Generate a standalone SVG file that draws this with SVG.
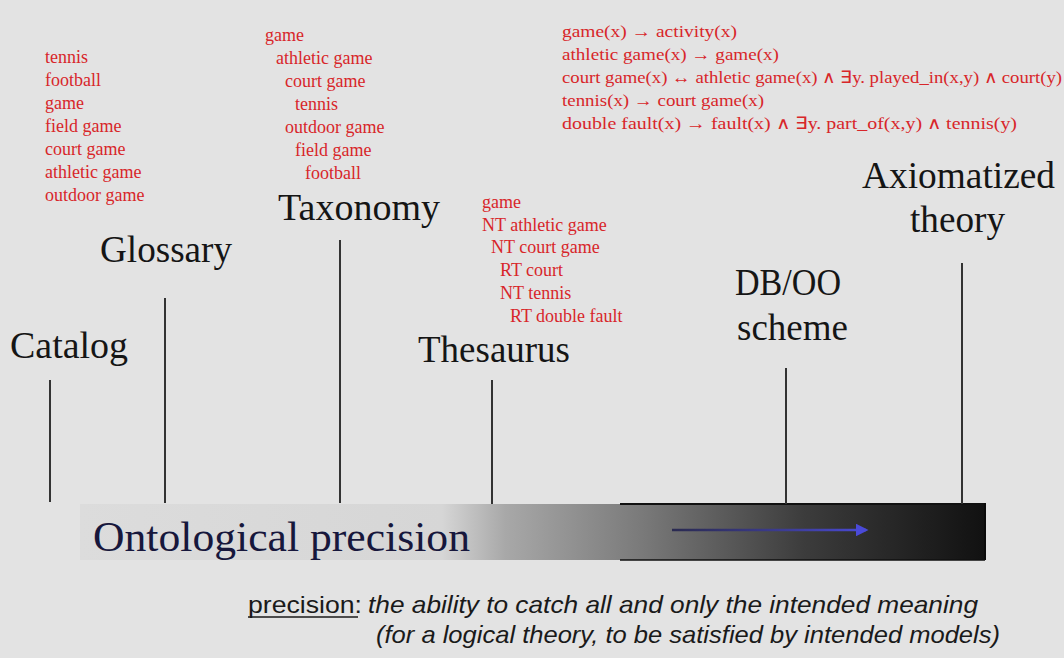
<svg xmlns="http://www.w3.org/2000/svg" width="1064" height="658" viewBox="0 0 1064 658">
  <style>
    .title { font-family: "Liberation Serif", "Times New Roman", serif; font-size: 37px; fill: #151515; }
    .term { font-family: "Liberation Serif", "Times New Roman", serif; font-size: 18px; fill: #d8262a; }
    .axiom { font-family: "Liberation Serif", "Times New Roman", serif; font-size: 17px; fill: #d8262a; }
    .stem { stroke: #333; stroke-width: 2; fill: none; }
    .note { font-family: "Liberation Sans", Arial, sans-serif; font-size: 24px; fill: #1a1a1a; }
  </style>
  <defs>
    <linearGradient id="precisionFill" x1="0" y1="0" x2="1" y2="0">
      <stop offset="0" stop-color="#dcdcdc"/>
      <stop offset="0.40" stop-color="#d6d6d6"/>
      <stop offset="0.47" stop-color="#a8a8a8"/>
      <stop offset="0.62" stop-color="#7a7a7a"/>
      <stop offset="0.80" stop-color="#3c3c3c"/>
      <stop offset="1" stop-color="#111"/>
    </linearGradient>
    <linearGradient id="arrowStroke" x1="672" y1="0" x2="870" y2="0" gradientUnits="userSpaceOnUse">
      <stop offset="0" stop-color="#2a2a50"/>
      <stop offset="0.5" stop-color="#3a3a8a"/>
      <stop offset="1" stop-color="#4a4ad8"/>
    </linearGradient>
    <marker id="blueHead" viewBox="0 0 10 10" refX="8" refY="5" markerWidth="5" markerHeight="5" orient="auto">
      <path d="M0,0 L10,5 L0,10 Z" fill="#4a4ad8"/>
    </marker>
  </defs>

  <rect width="1064" height="658" fill="#e3e3e3"/>

  <!-- scale bar -->
  <g id="precision-bar">
    <rect x="80" y="504" width="905" height="56" fill="url(#precisionFill)"/>
    <line x1="620" y1="504" x2="985" y2="504" stroke="#111" stroke-width="2"/>
    <line x1="985" y1="503" x2="985" y2="560" stroke="#0a0a0a" stroke-width="2"/>
    <line x1="620" y1="560" x2="985" y2="560" stroke="#111" stroke-width="1.5"/>
    <line x1="672" y1="530" x2="866" y2="530" stroke="url(#arrowStroke)" stroke-width="2.5" marker-end="url(#blueHead)"/>
    <text x="93" y="551" font-family="'Liberation Serif', 'Times New Roman', serif" font-size="42" fill="#17173c" textLength="377" lengthAdjust="spacingAndGlyphs">Ontological precision</text>
  </g>

  <!-- stems joining each level to the bar -->
  <g id="connectors">
    <line class="stem" x1="50" y1="380" x2="50" y2="502"/>
    <line class="stem" x1="165" y1="298" x2="165" y2="503"/>
    <line class="stem" x1="340" y1="240" x2="340" y2="503"/>
    <line class="stem" x1="492" y1="380" x2="492" y2="504"/>
    <line class="stem" x1="786" y1="368" x2="786" y2="504"/>
    <line class="stem" x1="962" y1="263" x2="962" y2="504"/>
  </g>

  <g id="catalog">
    <text class="title" x="10" y="358" textLength="118" lengthAdjust="spacingAndGlyphs">Catalog</text>
  </g>

  <g id="glossary">
    <text class="title" x="100" y="262" textLength="132" lengthAdjust="spacingAndGlyphs">Glossary</text>
    <text class="term" x="45" y="63">tennis</text>
    <text class="term" x="45" y="86">football</text>
    <text class="term" x="45" y="109">game</text>
    <text class="term" x="45" y="132">field game</text>
    <text class="term" x="45" y="155">court game</text>
    <text class="term" x="45" y="178">athletic game</text>
    <text class="term" x="45" y="201">outdoor game</text>
  </g>

  <g id="taxonomy">
    <text class="title" x="278" y="220" textLength="162" lengthAdjust="spacingAndGlyphs">Taxonomy</text>
    <text class="term" x="265" y="41">game</text>
    <text class="term" x="276" y="64">athletic game</text>
    <text class="term" x="285" y="87">court game</text>
    <text class="term" x="295" y="110">tennis</text>
    <text class="term" x="285" y="133">outdoor game</text>
    <text class="term" x="295" y="156">field game</text>
    <text class="term" x="305" y="179">football</text>
  </g>

  <g id="thesaurus">
    <text class="title" x="418" y="362" textLength="152" lengthAdjust="spacingAndGlyphs">Thesaurus</text>
    <text class="term" x="482" y="208">game</text>
    <text class="term" x="482" y="231">NT athletic game</text>
    <text class="term" x="491" y="253">NT  court game</text>
    <text class="term" x="500" y="276">RT court</text>
    <text class="term" x="500" y="299">NT tennis</text>
    <text class="term" x="510" y="322">RT double fault</text>
  </g>

  <g id="db-oo-scheme">
    <text class="title" x="735" y="295" textLength="106" lengthAdjust="spacingAndGlyphs">DB/OO</text>
    <text class="title" x="737" y="340" textLength="111" lengthAdjust="spacingAndGlyphs">scheme</text>
  </g>

  <g id="axiomatized-theory">
    <text class="title" x="862" y="188" textLength="193" lengthAdjust="spacingAndGlyphs">Axiomatized</text>
    <text class="title" x="910" y="232" textLength="95" lengthAdjust="spacingAndGlyphs">theory</text>
    <text class="axiom" x="562" y="37" textLength="175" lengthAdjust="spacingAndGlyphs">game(x) → activity(x)</text>
    <text class="axiom" x="562" y="60" textLength="217" lengthAdjust="spacingAndGlyphs">athletic game(x) → game(x)</text>
    <text class="axiom" x="562" y="83" textLength="500" lengthAdjust="spacingAndGlyphs">court game(x) ↔ athletic game(x) ∧ ∃y. played_in(x,y) ∧ court(y)</text>
    <text class="axiom" x="562" y="106" textLength="202" lengthAdjust="spacingAndGlyphs">tennis(x) → court game(x)</text>
    <text class="axiom" x="562" y="129" textLength="455" lengthAdjust="spacingAndGlyphs">double fault(x) → fault(x) ∧ ∃y. part_of(x,y) ∧ tennis(y)</text>
  </g>

  <!-- definition note -->
  <g id="definition">
    <text class="note" x="248" y="613" textLength="114" lengthAdjust="spacingAndGlyphs">precision:</text>
    <line x1="248" y1="617" x2="358" y2="617" stroke="#1a1a1a" stroke-width="1.5"/>
    <text class="note" x="368" y="613" font-style="italic" textLength="610" lengthAdjust="spacingAndGlyphs">the ability to catch all and only the intended meaning</text>
    <text class="note" x="376" y="643" font-style="italic" textLength="624" lengthAdjust="spacingAndGlyphs">(for a logical theory, to be satisfied by intended models)</text>
  </g>
</svg>
